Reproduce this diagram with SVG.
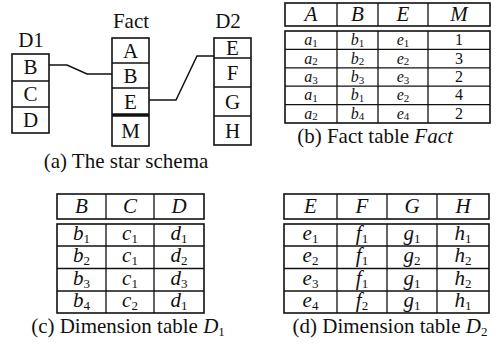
<svg xmlns="http://www.w3.org/2000/svg" width="498" height="354" viewBox="0 0 498 354" font-family="'Liberation Serif','DejaVu Serif',serif">
<style>
text{font-family:'Liberation Serif','DejaVu Serif',serif;fill:#111;}
.t{font-size:21px;text-anchor:middle;}
.f{font-size:16px;text-anchor:middle;}
.i{font-style:italic;}
.cap{font-size:21px;text-anchor:middle;}
.s{font-size:13px;font-style:normal;}
.fs{font-size:11px;font-style:normal;}
.b{fill:#fff;stroke:#111;stroke-width:1.6;}
.l{stroke:#111;stroke-width:1.3;fill:none;}
.c{stroke:#111;stroke-width:1.5;fill:none;}
</style>
<rect width="498" height="354" fill="#fff"/>

<!-- (a) star schema -->
<g id="D1">
<text class="t" x="31" y="47">D1</text>
<rect class="b" x="12" y="54" width="37" height="79"/>
<line class="l" x1="12" y1="81" x2="49" y2="81"/>
<line class="l" x1="12" y1="107" x2="49" y2="107"/>
<text class="t" x="30.5" y="74">B</text>
<text class="t" x="30.5" y="101">C</text>
<text class="t" x="30.5" y="127">D</text>
</g>
<g id="Fact">
<text class="t" x="131" y="28">Fact</text>
<rect class="b" x="112" y="38" width="37" height="108"/>
<line class="l" x1="112" y1="63" x2="149" y2="63"/>
<line class="l" x1="112" y1="88" x2="149" y2="88"/>
<line x1="112" y1="115" x2="149" y2="115" stroke="#111" stroke-width="3.5"/>
<text class="t" x="130.5" y="58">A</text>
<text class="t" x="130.5" y="83">B</text>
<text class="t" x="130.5" y="109">E</text>
<text class="t" x="130.5" y="138">M</text>
</g>
<g id="D2">
<text class="t" x="228" y="28">D2</text>
<rect class="b" x="214" y="38" width="37" height="107"/>
<line class="l" x1="214" y1="58" x2="251" y2="58"/>
<line class="l" x1="214" y1="87" x2="251" y2="87"/>
<line class="l" x1="214" y1="116" x2="251" y2="116"/>
<text class="t" x="232.5" y="55">E</text>
<text class="t" x="232.5" y="80">F</text>
<text class="t" x="232.5" y="109">G</text>
<text class="t" x="232.5" y="138">H</text>
</g>
<g id="connectors">
<polyline class="c" points="49,65 67,65 87,74 112,74"/>
<polyline class="c" points="149,100 176,100 197,56 214,56"/>
</g>
<text class="cap" x="126" y="168">(a) The star schema</text>

<!-- (b) Fact table -->
<g id="tableFact">
<rect class="b" x="285" y="3" width="205" height="23"/>
<line class="l" x1="337" y1="3" x2="337" y2="26"/>
<line class="l" x1="378" y1="3" x2="378" y2="26"/>
<line class="l" x1="428" y1="3" x2="428" y2="26"/>
<text class="t i" x="311" y="21">A</text>
<text class="t i" x="357.5" y="21">B</text>
<text class="t i" x="403" y="21">E</text>
<text class="t i" x="459" y="21">M</text>
<rect class="b" x="285" y="31" width="205" height="92"/>
<line class="l" x1="337" y1="31" x2="337" y2="123"/>
<line class="l" x1="378" y1="31" x2="378" y2="123"/>
<line class="l" x1="428" y1="31" x2="428" y2="123"/>
<line class="l" x1="285" y1="49.4" x2="490" y2="49.4"/>
<line class="l" x1="285" y1="67.8" x2="490" y2="67.8"/>
<line class="l" x1="285" y1="86.2" x2="490" y2="86.2"/>
<line class="l" x1="285" y1="104.6" x2="490" y2="104.6"/>
<text class="f i" x="311" y="45">a<tspan class="fs" dy="1.5">1</tspan></text>
<text class="f i" x="357.5" y="45">b<tspan class="fs" dy="1.5">1</tspan></text>
<text class="f i" x="403" y="45">e<tspan class="fs" dy="1.5">1</tspan></text>
<text class="f" x="459" y="45">1</text>
<text class="f i" x="311" y="63.5">a<tspan class="fs" dy="1.5">2</tspan></text>
<text class="f i" x="357.5" y="63.5">b<tspan class="fs" dy="1.5">2</tspan></text>
<text class="f i" x="403" y="63.5">e<tspan class="fs" dy="1.5">2</tspan></text>
<text class="f" x="459" y="63.5">3</text>
<text class="f i" x="311" y="82">a<tspan class="fs" dy="1.5">3</tspan></text>
<text class="f i" x="357.5" y="82">b<tspan class="fs" dy="1.5">3</tspan></text>
<text class="f i" x="403" y="82">e<tspan class="fs" dy="1.5">3</tspan></text>
<text class="f" x="459" y="82">2</text>
<text class="f i" x="311" y="100">a<tspan class="fs" dy="1.5">1</tspan></text>
<text class="f i" x="357.5" y="100">b<tspan class="fs" dy="1.5">1</tspan></text>
<text class="f i" x="403" y="100">e<tspan class="fs" dy="1.5">2</tspan></text>
<text class="f" x="459" y="100">4</text>
<text class="f i" x="311" y="118.5">a<tspan class="fs" dy="1.5">2</tspan></text>
<text class="f i" x="357.5" y="118.5">b<tspan class="fs" dy="1.5">4</tspan></text>
<text class="f i" x="403" y="118.5">e<tspan class="fs" dy="1.5">4</tspan></text>
<text class="f" x="459" y="118.5">2</text>
</g>
<text class="cap" x="375" y="143">(b) Fact table <tspan class="i">Fact</tspan></text>

<!-- (c) Dimension table D1 -->
<g id="tableD1">
<rect class="b" x="57" y="194" width="147" height="25"/>
<line class="l" x1="106" y1="194" x2="106" y2="219"/>
<line class="l" x1="154" y1="194" x2="154" y2="219"/>
<text class="t i" x="81.5" y="213">B</text>
<text class="t i" x="130" y="213">C</text>
<text class="t i" x="179" y="213">D</text>
<rect class="b" x="57" y="224" width="147" height="89"/>
<line class="l" x1="106" y1="224" x2="106" y2="313"/>
<line class="l" x1="154" y1="224" x2="154" y2="313"/>
<line class="l" x1="57" y1="246" x2="204" y2="246"/>
<line class="l" x1="57" y1="268.5" x2="204" y2="268.5"/>
<line class="l" x1="57" y1="291" x2="204" y2="291"/>
<text class="t i" x="81.5" y="240">b<tspan class="s" dy="3">1</tspan></text>
<text class="t i" x="130" y="240">c<tspan class="s" dy="3">1</tspan></text>
<text class="t i" x="179" y="240">d<tspan class="s" dy="3">1</tspan></text>
<text class="t i" x="81.5" y="262">b<tspan class="s" dy="3">2</tspan></text>
<text class="t i" x="130" y="262">c<tspan class="s" dy="3">1</tspan></text>
<text class="t i" x="179" y="262">d<tspan class="s" dy="3">2</tspan></text>
<text class="t i" x="81.5" y="285">b<tspan class="s" dy="3">3</tspan></text>
<text class="t i" x="130" y="285">c<tspan class="s" dy="3">1</tspan></text>
<text class="t i" x="179" y="285">d<tspan class="s" dy="3">3</tspan></text>
<text class="t i" x="81.5" y="307">b<tspan class="s" dy="3">4</tspan></text>
<text class="t i" x="130" y="307">c<tspan class="s" dy="3">2</tspan></text>
<text class="t i" x="179" y="307">d<tspan class="s" dy="3">1</tspan></text>
</g>
<text class="cap" x="128" y="333">(c) Dimension table <tspan class="i">D</tspan><tspan class="s" dy="3">1</tspan></text>

<!-- (d) Dimension table D2 -->
<g id="tableD2">
<rect class="b" x="284" y="194" width="205" height="25"/>
<line class="l" x1="337" y1="194" x2="337" y2="219"/>
<line class="l" x1="387" y1="194" x2="387" y2="219"/>
<line class="l" x1="437" y1="194" x2="437" y2="219"/>
<text class="t i" x="310.5" y="213">E</text>
<text class="t i" x="362" y="213">F</text>
<text class="t i" x="412" y="213">G</text>
<text class="t i" x="463" y="213">H</text>
<rect class="b" x="284" y="224" width="205" height="89"/>
<line class="l" x1="337" y1="224" x2="337" y2="313"/>
<line class="l" x1="387" y1="224" x2="387" y2="313"/>
<line class="l" x1="437" y1="224" x2="437" y2="313"/>
<line class="l" x1="284" y1="246" x2="489" y2="246"/>
<line class="l" x1="284" y1="268.5" x2="489" y2="268.5"/>
<line class="l" x1="284" y1="291" x2="489" y2="291"/>
<text class="t i" x="310.5" y="240">e<tspan class="s" dy="3">1</tspan></text>
<text class="t i" x="362" y="240">f<tspan class="s" dy="3">1</tspan></text>
<text class="t i" x="412" y="240">g<tspan class="s" dy="3">1</tspan></text>
<text class="t i" x="463" y="240">h<tspan class="s" dy="3">1</tspan></text>
<text class="t i" x="310.5" y="262">e<tspan class="s" dy="3">2</tspan></text>
<text class="t i" x="362" y="262">f<tspan class="s" dy="3">1</tspan></text>
<text class="t i" x="412" y="262">g<tspan class="s" dy="3">2</tspan></text>
<text class="t i" x="463" y="262">h<tspan class="s" dy="3">2</tspan></text>
<text class="t i" x="310.5" y="285">e<tspan class="s" dy="3">3</tspan></text>
<text class="t i" x="362" y="285">f<tspan class="s" dy="3">1</tspan></text>
<text class="t i" x="412" y="285">g<tspan class="s" dy="3">1</tspan></text>
<text class="t i" x="463" y="285">h<tspan class="s" dy="3">2</tspan></text>
<text class="t i" x="310.5" y="307">e<tspan class="s" dy="3">4</tspan></text>
<text class="t i" x="362" y="307">f<tspan class="s" dy="3">2</tspan></text>
<text class="t i" x="412" y="307">g<tspan class="s" dy="3">1</tspan></text>
<text class="t i" x="463" y="307">h<tspan class="s" dy="3">1</tspan></text>
</g>
<text class="cap" x="390" y="333">(d) Dimension table <tspan class="i">D</tspan><tspan class="s" dy="3">2</tspan></text>
</svg>
